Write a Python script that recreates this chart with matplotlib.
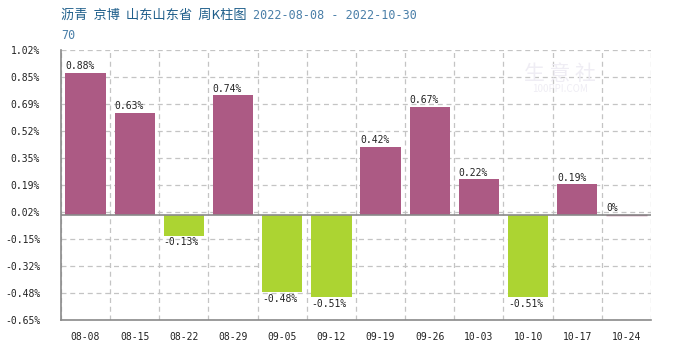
import numpy as np
import matplotlib.pyplot as plt

weeks = ["08-08", "08-15", "08-22", "08-29", "09-05", "09-12",
         "09-19", "09-26", "10-03", "10-10", "10-17", "10-24"]
changes = [0.88, 0.63, -0.13, 0.74, -0.48, -0.51, 0.42, 0.67, 0.22, -0.51, 0.19, 0.0]
labels = ["0.88%", "0.63%", "-0.13%", "0.74%", "-0.48%", "-0.51%",
          "0.42%", "0.67%", "0.22%", "-0.51%", "0.19%", "0%"]

UP = "#ac5a84"
DOWN = "#acd432"
GRID = "#c4c4c4"
AXIS = "#8a8a8a"

plt.rcParams["font.family"] = ["Noto Sans CJK SC", "DejaVu Sans"]

fig = plt.figure(figsize=(7, 3.5), dpi=100)
ax = fig.add_axes([0.087, 0.086, 0.843, 0.771])

x = np.arange(len(weeks))
colors = [UP if v >= 0 else DOWN for v in changes]
bars = ax.bar(x, changes, width=0.82, color=colors, zorder=3)
bars[-1].set_edgecolor(UP)
bars[-1].set_linewidth(1)

ymin, ymax = -0.65, 1.02
ax.set_ylim(ymin, ymax)
ax.set_xlim(-0.5, len(weeks) - 0.5)
yt = np.linspace(ymin, ymax, 11)
ax.set_yticks(yt)
# round half up so 0.185 shows as 0.19
ax.set_yticklabels([f"{np.floor(v * 100 + 0.5 + 1e-9) / 100:.2f}%" for v in yt])
ax.set_xticks(x)
ax.set_xticklabels(weeks)

mono = dict(family="DejaVu Sans Mono", fontsize=7, color="#222222")
for t in ax.get_xticklabels() + ax.get_yticklabels():
    t.set_fontfamily("DejaVu Sans Mono")
    t.set_fontsize(7)
    t.set_color("#222222")
ax.tick_params(length=0, pad=9, axis="x")
ax.tick_params(length=0, pad=15, axis="y")

# dashed grid: horizontal at ticks, vertical at week boundaries
for v in yt:
    ax.axhline(v, color=GRID, lw=0.9, ls=(0, (4, 3)), zorder=1)
for b in np.arange(-0.5, len(weeks), 1.0):
    ax.axvline(b, color=GRID, lw=0.9, ls=(0, (4, 3)), zorder=1)
ax.axhline(0, color=AXIS, lw=1.2, zorder=4)

for s in ["top", "right"]:
    ax.spines[s].set_visible(False)
for s in ["left", "bottom"]:
    ax.spines[s].set_color(AXIS)
    ax.spines[s].set_linewidth(1.2)

for xi, v, lab in zip(x, changes, labels):
    left = xi - 0.41
    if v >= 0:
        ax.text(left, v + 0.01, lab, ha="left", va="bottom", zorder=5, **mono)
    else:
        ax.text(left, v - 0.01, lab, ha="left", va="top", zorder=5, **mono)

# faint site watermark
fig.text(0.80, 0.79, "生 意 社", fontsize=15, color="#efedf4", ha="center", va="center", zorder=0)
fig.text(0.80, 0.745, "100PPI.COM", fontsize=7, color="#efedf4", ha="center", va="center", zorder=0)

fig.text(0.087, 0.955, "沥青  京博  山东山东省  周K柱图", fontsize=9.5, color="#1f5f8b", va="center")
fig.text(0.362, 0.955, "2022-08-08 - 2022-10-30", fontsize=8.5, color="#4a7fa8",
         family="DejaVu Sans Mono", va="center")
fig.text(0.087, 0.898, "70", fontsize=8.5, color="#4a7fa8", family="DejaVu Sans Mono", va="center")

fig.savefig("out.png", dpi=100)
